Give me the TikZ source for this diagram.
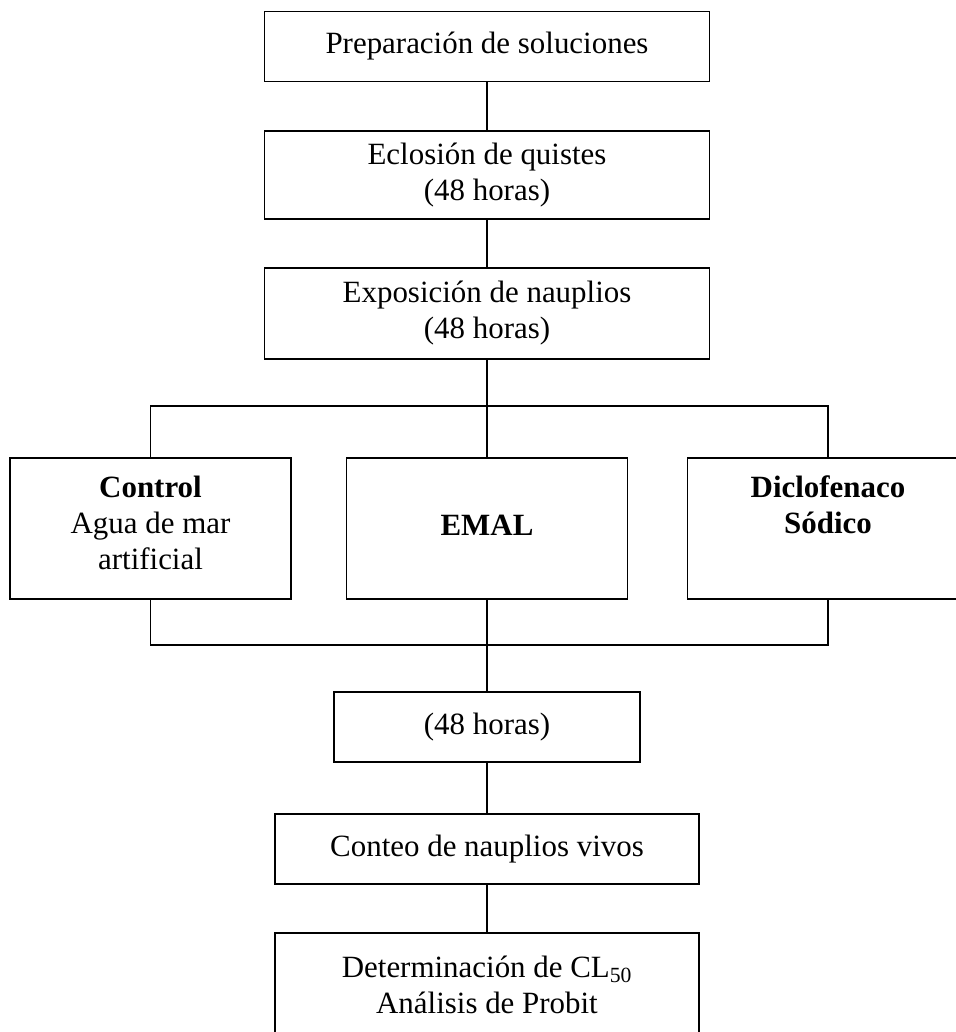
\documentclass[tikz,border=0pt]{standalone}
\usepackage{fontspec}
\setmainfont{Liberation Serif}
\begin{document}
\begin{tikzpicture}[x=0.75pt,y=0.75pt,yscale=-1,xscale=1,
  stepbox/.style={draw, line width=1.4pt, align=center, inner sep=0pt, font=\fontsize{23.2}{27}\selectfont},
  link/.style={line width=1.4pt}]
%set diagram left start at 0, and has height of 1032
\useasboundingbox (0,0) rectangle (956,1032);

%Shape: Rectangle [id:prep]
\node [stepbox, minimum width=333.75pt, minimum height=52.5pt] (prep) at (487,46.5) {Preparación de soluciones};
%Shape: Rectangle [id:eclo]
\node [stepbox, minimum width=333.75pt, minimum height=66pt] (eclo) at (487,175) {Eclosión de quistes\\(48 horas)};
%Shape: Rectangle [id:expo]
\node [stepbox, minimum width=333.75pt, minimum height=68.25pt] (expo) at (487,313.5) {Exposición de nauplios\\(48 horas)};

%Shape: Rectangle [id:ctrl]
\node [stepbox, minimum width=210.75pt, minimum height=105.75pt] (ctrl) at (150.5,528.5) {\textbf{Control}\\Agua de mar\\artificial\strut};
%Shape: Rectangle [id:emal]
\node [stepbox, minimum width=210.75pt, minimum height=105.75pt] (emal) at (487,528.5) {\textbf{\strut}\\\textbf{EMAL}\\\strut};
%Shape: Rectangle [id:diclo]
\node [stepbox, minimum width=210.75pt, minimum height=105.75pt] (diclo) at (828,528.5) {\textbf{Diclofenaco}\\\textbf{Sódico}\\\strut};

%Shape: Rectangle [id:horas]
\node [stepbox, minimum width=229.5pt, minimum height=52.5pt] (horas) at (487,727) {(48 horas)};
%Shape: Rectangle [id:conteo]
\node [stepbox, minimum width=318pt, minimum height=52.5pt] (conteo) at (487,849) {Conteo de nauplios vivos};
%Shape: Rectangle [id:deter]
\node [stepbox, minimum width=318pt, minimum height=78pt] (deter) at (487,985) {Determinación de CL\textsubscript{50}\\Análisis de Probit};

%Straight Lines [id:busses]
\coordinate (topbus) at (487,406);
\coordinate (lowbus) at (487,645);

%Straight Lines [id:main]
\draw [link] (prep) -- (eclo);
\draw [link] (eclo) -- (expo);
\draw [link] (expo) -- (emal);
\draw [link] (emal) -- (horas);
\draw [link] (horas) -- (conteo);
\draw [link] (conteo) -- (deter);

%Straight Lines [id:branches]
\draw [link] (ctrl.north) -- (ctrl.north |- topbus) -- (diclo.north |- topbus) -- (diclo.north);
\draw [link] (ctrl.south) -- (ctrl.south |- lowbus) -- (diclo.south |- lowbus) -- (diclo.south);

\end{tikzpicture}
\end{document}
